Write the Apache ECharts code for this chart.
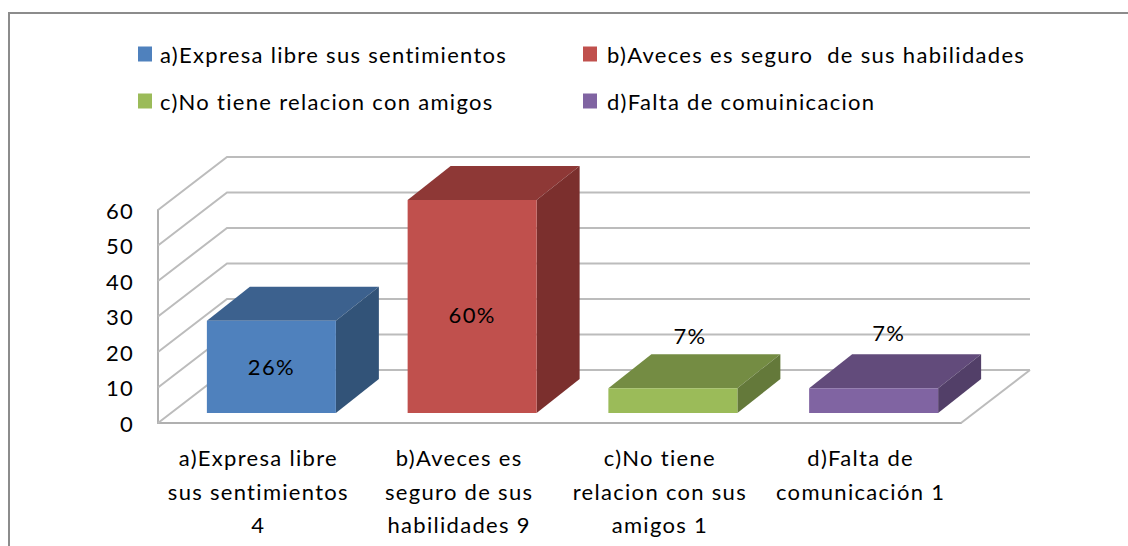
<!DOCTYPE html>
<html>
<head>
<meta charset="utf-8">
<style>
  html, body { margin: 0; padding: 0; background: #fff; }
  #chart { width: 1128px; height: 546px; }
  #chart text { letter-spacing: 1.3px; }
</style>
<script src="https://cdn.jsdelivr.net/npm/echarts@6/dist/echarts.min.js"></script>
</head>
<body>
<div id="chart"></div>
<script>
const categories = [
  "a)Expresa libre\nsus sentimientos\n4",
  "b)Aveces es\nseguro de sus\nhabilidades 9",
  "c)No tiene\nrelacion con sus\namigos 1",
  "d)Falta de\ncomunicación 1"
];
const legendNames = [
  "a)Expresa libre sus sentimientos",
  "b)Aveces es seguro  de sus habilidades",
  "c)No tiene relacion con amigos",
  "d)Falta de comuinicacion"
];
const values = [26, 60, 7, 7];
const valueLabels = ["26%", "60%", "7%", "7%"];
const yTicks = [0, 10, 20, 30, 40, 50, 60];

const FONT = "Lato, 'Open Sans', sans-serif";
const DEPTH_X = 69, DEPTH_Y = 53;       // fondo del grafico 3d
const BAR_W = 129, BAR_DX = 43, BAR_DY = 34;
const BASE_X = 13, BASE_Y = 10;         // la barra no toca el borde del piso
// front, top, side
const barColors = [
  ["#4f81bd", "#3c618e", "#325378"],
  ["#c0504d", "#8e3836", "#7b2f2d"],
  ["#9bbb59", "#748c43", "#64793a"],
  ["#8064a2", "#624b7b", "#523f68"]
];
// posicion del texto respecto al centro superior de la cara frontal
const labelOffsets = [[0, 46], [0, 114], [17, -53], [15, -56]];
const legendPos = [[133, 38, 3], [578, 38, 5], [133, 85, 3], [578, 85, 5]];

function wallItem(params, api) {
  const cs = params.coordSys;
  const v = api.value(1);
  const y = api.coord([0, v])[1];
  const x0 = cs.x, x1 = cs.x + cs.width;
  const lineStyle = { stroke: "#bcbcbc", lineWidth: 2, fill: null };
  const children = [{
    type: "polyline",
    shape: { points: [[x0, y], [x0 + DEPTH_X, y - DEPTH_Y], [x1 + DEPTH_X, y - DEPTH_Y]] },
    style: lineStyle
  }];
  if (v === 0) {
    children.push({
      type: "line",
      shape: { x1: x1, y1: y, x2: x1 + DEPTH_X, y2: y - DEPTH_Y },
      style: lineStyle
    });
  }
  return { type: "group", children: children };
}

function barItem(params, api) {
  const i = api.value(0);
  const top = api.coord([i, api.value(1)]);
  const bottom = api.coord([i, 0]);
  const l = top[0] + BASE_X - BAR_W / 2, r = l + BAR_W;
  const t = top[1] - BASE_Y, b = bottom[1] - BASE_Y;
  const c = barColors[i];
  const off = labelOffsets[i];
  return {
    type: "group",
    children: [
      { type: "polygon", shape: { points: [[l, t], [r, t], [r + BAR_DX, t - BAR_DY], [l + BAR_DX, t - BAR_DY]] }, style: { fill: c[1] } },
      { type: "polygon", shape: { points: [[r, t], [r + BAR_DX, t - BAR_DY], [r + BAR_DX, b - BAR_DY], [r, b]] }, style: { fill: c[2] } },
      { type: "rect", shape: { x: l, y: t, width: BAR_W, height: b - t }, style: { fill: c[0] } },
      {
        type: "text",
        z2: 10,
        style: {
          text: valueLabels[i],
          x: l + BAR_W / 2 + off[0],
          y: t + off[1],
          fill: "#000",
          font: "22px " + FONT,
          align: "center",
          verticalAlign: "middle"
        }
      }
    ]
  };
}

const barSeries = values.map((v, i) => ({
  type: "custom",
  name: legendNames[i],
  coordinateSystem: "cartesian2d",
  renderItem: barItem,
  clip: false,
  z: 3 + i,
  itemStyle: { color: barColors[i][0] },
  data: [[i, v]]
}));

const option = {
  animation: false,
  backgroundColor: "#fff",
  legend: legendNames.map((name, i) => ({
    data: [name],
    left: legendPos[i][0],
    top: legendPos[i][1],
    icon: "rect",
    itemWidth: 14,
    itemHeight: 15,
    selectedMode: false,
    textStyle: { color: "#000", fontSize: 22, fontFamily: FONT, padding: [0, 0, 0, legendPos[i][2]] }
  })),
  grid: { left: 158, top: 210, width: 803, height: 213 },
  xAxis: {
    type: "category",
    data: categories,
    axisTick: { show: false },
    axisLine: { show: true, onZero: false, lineStyle: { color: "#b0b0b0", width: 2 } },
    axisLabel: {
      interval: 0,
      margin: 18,
      color: "#000",
      fontSize: 22,
      fontFamily: FONT,
      lineHeight: 33.5,
      align: "center",
      verticalAlign: "top"
    }
  },
  yAxis: {
    type: "value",
    min: 0,
    max: 60,
    interval: 10,
    splitLine: { show: false },
    axisTick: { show: false },
    axisLine: { show: true, lineStyle: { color: "#b0b0b0", width: 2 } },
    axisLabel: { margin: 24, color: "#000", fontSize: 22, fontFamily: FONT }
  },
  graphic: [
    {
      type: "polyline",
      shape: { points: [[9, 546], [9, 13], [1128, 13]] },
      style: { stroke: "#8c8c8c", lineWidth: 2, fill: null }
    }
  ],
  series: [
    {
      type: "custom",
      coordinateSystem: "cartesian2d",
      renderItem: wallItem,
      clip: false,
      z: 1,
      data: yTicks.map(t => [0, t])
    }
  ].concat(barSeries)
};

const chartObj = echarts.init(document.getElementById("chart"), null, { renderer: "svg" });
chartObj.setOption(option);
</script>
</body>
</html>
